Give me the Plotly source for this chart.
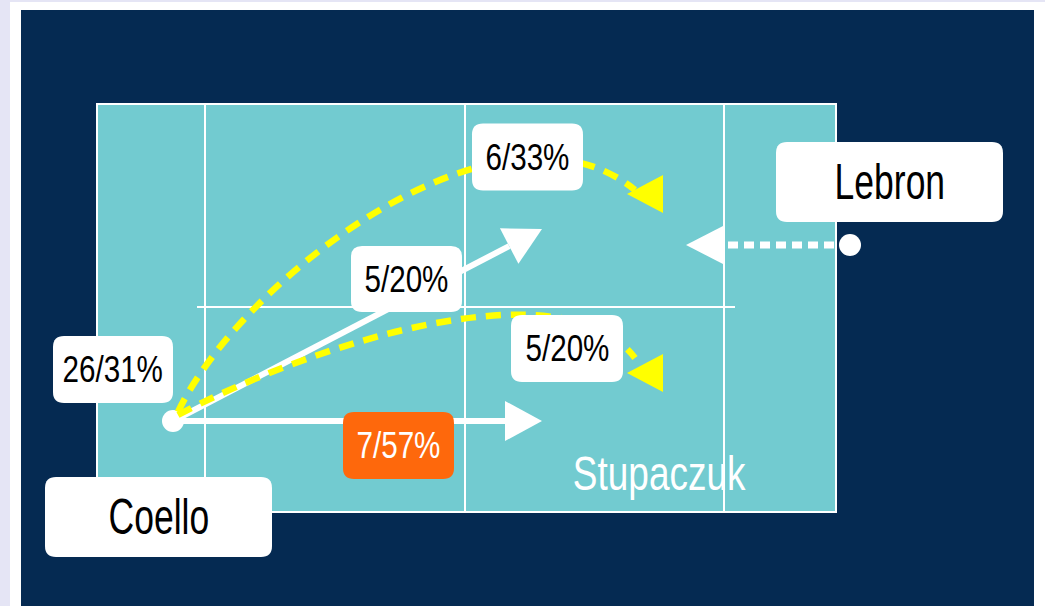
import json
import plotly.graph_objects as go

# ---------------- data ----------------
PLAYER_NAMES = ["Coello", "Lebron"]
PLAYER_X = [173, 850]
PLAYER_Y = [421, 245]

# straight shots from Coello (white arrows): tip of arrow
STRAIGHT_TIP_X = [542, 542]
STRAIGHT_TIP_Y = [421, 229]

# Lebron's dotted arrow
LEBRON_TIP_X = [686]
LEBRON_TIP_Y = [245]

# curved (yellow dashed) shots: start, two control points, end, arrow tip
CURVE_START = [(178, 412), (178, 415)]
CURVE_C1 = [(240, 280), (300, 350)]
CURVE_C2 = [(500, 80), (560, 260)]
CURVE_END = [(635, 190), (635, 358)]
CURVE_TIP = [(627, 194), (627, 373)]

# stat labels
LABEL_TEXT = ["6/33%", "5/20%", "5/20%", "7/57%", "26/31%", "Coello", "Lebron"]
LABEL_CX = [527.5, 406.5, 567, 398.5, 113, 158.5, 889.5]
LABEL_CY = [157, 279, 348.5, 445.5, 369.5, 517, 182]
LABEL_W = [111, 111, 112, 111, 120, 227, 227]
LABEL_H = [67, 66, 67, 67, 67, 80, 80]
LABEL_HIGHLIGHT = [False, False, False, True, False, False, False]

OTHER_PLAYER = "Stupaczuk"
OTHER_X, OTHER_Y = 659, 473

# court geometry
COURT_X = [97, 836]
COURT_Y = [104, 512]
COURT_VLINES = [205, 465, 724]
COURT_MID_Y = 307
COURT_MID_X = [197, 735]

# ---------------- style ----------------
LAVENDER = "#e5e5f5"
NAVY = "#052a52"
COURT = "#72cbd0"
YELLOW = "#ffff00"
ORANGE = "#fe680c"
FONT = "Liberation Sans, Arial, sans-serif"

fig = go.Figure()
shapes = []

shapes.append(dict(type="rect", x0=10, x1=1046, y0=2, y1=607, fillcolor="white",
                   line=dict(width=0), layer="below"))
shapes.append(dict(type="rect", x0=21, x1=1034, y0=10, y1=607, fillcolor=NAVY,
                   line=dict(width=0), layer="below"))
shapes.append(dict(type="rect", x0=COURT_X[0], x1=COURT_X[1], y0=COURT_Y[0], y1=COURT_Y[1],
                   fillcolor=COURT, line=dict(color="white", width=2), layer="below"))
for vx in COURT_VLINES:
    shapes.append(dict(type="line", x0=vx, x1=vx, y0=COURT_Y[0], y1=COURT_Y[1],
                       line=dict(color="white", width=2), layer="below"))
shapes.append(dict(type="line", x0=COURT_MID_X[0], x1=COURT_MID_X[1], y0=COURT_MID_Y, y1=COURT_MID_Y,
                   line=dict(color="white", width=2), layer="below"))


def arrow_head(tip, direction, length=37, half=19):
    dx, dy = direction
    n = (dx * dx + dy * dy) ** 0.5
    ux, uy = dx / n, dy / n
    bx, by = tip[0] - ux * length, tip[1] - uy * length
    px, py = -uy, ux
    p1 = (bx + px * half, by + py * half)
    p2 = (bx - px * half, by - py * half)
    path = f"M {tip[0]},{tip[1]} L {p1[0]},{p1[1]} L {p2[0]},{p2[1]} Z"
    return path, (bx, by)


cx0, cy0 = PLAYER_X[0], PLAYER_Y[0]
for tx, ty in zip(STRAIGHT_TIP_X, STRAIGHT_TIP_Y):
    path, base = arrow_head((tx, ty), (tx - cx0, ty - cy0), 37, 20)
    fig.add_trace(go.Scatter(x=[cx0, base[0]], y=[cy0, base[1]], mode="lines",
                             line=dict(color="white", width=6), hoverinfo="skip"))
    shapes.append(dict(type="path", path=path, fillcolor="white", line=dict(width=0)))

lx, ly = PLAYER_X[1], PLAYER_Y[1]
for tx, ty in zip(LEBRON_TIP_X, LEBRON_TIP_Y):
    path, base = arrow_head((tx, ty), (tx - lx, ty - ly), 37, 19)
    fig.add_trace(go.Scatter(x=[lx, base[0]], y=[ly, base[1]], mode="lines",
                             line=dict(color="white", width=7, dash="10px,6px"), hoverinfo="skip"))
    shapes.append(dict(type="path", path=path, fillcolor="white", line=dict(width=0)))

fig.add_trace(go.Scatter(x=PLAYER_X, y=PLAYER_Y, mode="markers",
                         marker=dict(color="white", size=22, line=dict(width=0)),
                         hoverinfo="skip"))

for s, c1, c2, e, tip in zip(CURVE_START, CURVE_C1, CURVE_C2, CURVE_END, CURVE_TIP):
    shapes.append(dict(type="path",
                       path=f"M {s[0]},{s[1]} C {c1[0]},{c1[1]} {c2[0]},{c2[1]} {e[0]},{e[1]}",
                       line=dict(color=YELLOW, width=6.5, dash="15px,10px")))
    path, _ = arrow_head(tip, (-1, 0), 36, 19)
    shapes.append(dict(type="path", path=path, fillcolor=YELLOW, line=dict(width=0)))


def rounded(x0, y0, x1, y1, r=10):
    return (f"M {x0 + r},{y0} L {x1 - r},{y0} Q {x1},{y0} {x1},{y0 + r} "
            f"L {x1},{y1 - r} Q {x1},{y1} {x1 - r},{y1} L {x0 + r},{y1} "
            f"Q {x0},{y1} {x0},{y1 - r} L {x0},{y0 + r} Q {x0},{y0} {x0 + r},{y0} Z")

annotations = []
scales = []
for t, cx, cy, w, h, hi in zip(LABEL_TEXT, LABEL_CX, LABEL_CY, LABEL_W, LABEL_H, LABEL_HIGHLIGHT):
    shapes.append(dict(type="path", path=rounded(cx - w / 2, cy - h / 2, cx + w / 2, cy + h / 2, 11),
                       fillcolor=ORANGE if hi else "white", line=dict(width=0)))
    big = h >= 80
    annotations.append(dict(x=cx, y=cy, text=t, showarrow=False, xanchor="center", yanchor="middle",
                            font=dict(family=FONT, size=50 if big else 37,
                                      color="white" if hi else "black")))
    scales.append(0.71 if big else 0.8)

annotations.append(dict(x=OTHER_X, y=OTHER_Y, text=OTHER_PLAYER, showarrow=False,
                        xanchor="center", yanchor="middle",
                        font=dict(family=FONT, size=48, color="white")))
scales.append(0.77)

fig.update_layout(
    width=1045, height=606,
    margin=dict(l=0, r=0, t=0, b=0),
    paper_bgcolor=LAVENDER, plot_bgcolor="rgba(0,0,0,0)",
    showlegend=False,
    shapes=shapes, annotations=annotations,
    xaxis=dict(range=[0, 1045], visible=False, fixedrange=True),
    yaxis=dict(range=[606, 0], visible=False, fixedrange=True),
)

post = """
document.body.style.margin='0';document.body.style.overflow='hidden';
var SCALES = %s;
function condense(){
  var gd = document.getElementById('{plot_id}');
  if(!gd) return;
  gd.querySelectorAll('g.annotation').forEach(function(g){
    var i = +g.getAttribute('data-index');
    var t = g.querySelector('text');
    if(!t || SCALES[i] === undefined) return;
    t.style.transformBox = 'fill-box';
    t.style.transformOrigin = 'center';
    t.style.transform = 'scaleX(' + SCALES[i] + ')';
  });
}
condense(); setTimeout(condense, 0); setTimeout(condense, 200);
var gdd = document.getElementById('{plot_id}');
if (gdd && gdd.on) { gdd.on('plotly_afterplot', condense); }
""" % json.dumps(scales)

fig.write_html("out.html", config={"displayModeBar": False}, post_script=post)
